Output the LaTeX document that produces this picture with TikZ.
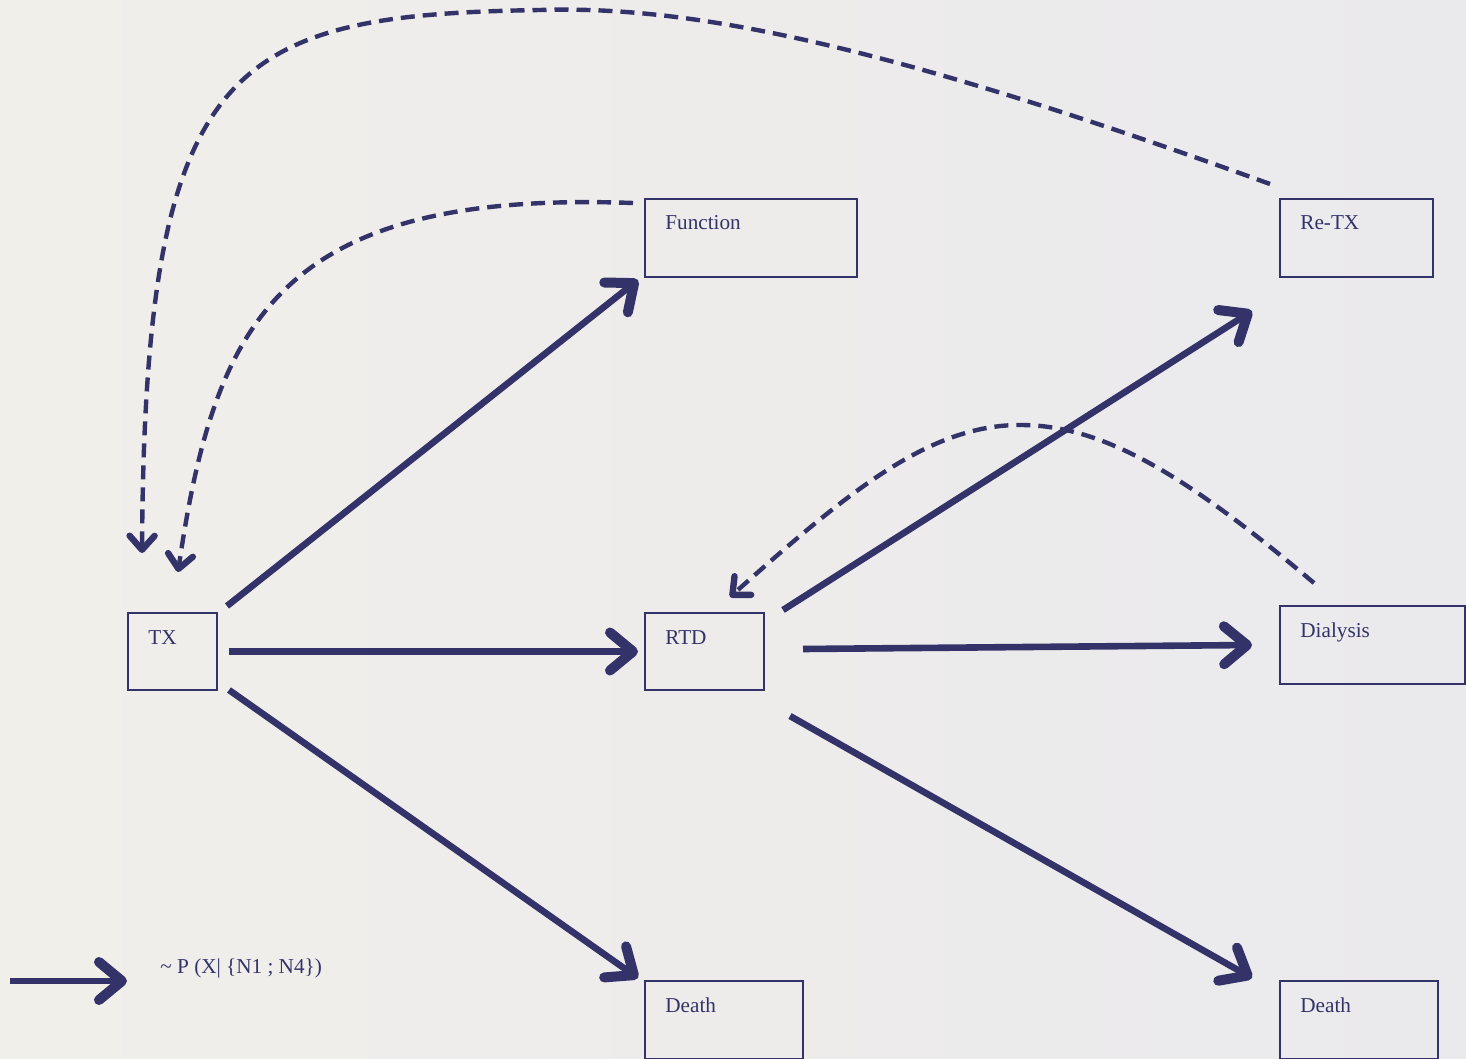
\documentclass[tikz,border=0pt]{standalone}
\usepackage{fontspec}
\setmainfont{Liberation Serif}
\usetikzlibrary{arrows.meta,calc}
\definecolor{navy}{HTML}{33336A}
\definecolor{bgl}{HTML}{F1EFEA}
\definecolor{bgr}{HTML}{EAE9EC}
\tikzset{
  box/.style={draw=navy, line width=1pt, rectangle, inner sep=0pt, outer sep=0pt},
  lbl/.style={text=navy, anchor=base west, inner sep=0pt, font=\fontsize{10.6}{12}\selectfont},
  flow/.style={draw=navy, line width=3.3pt, -{Straight Barb[length=11.5pt,width=19pt,line width=5pt,round]}},
  back/.style={draw=navy, line width=2.2pt, dash pattern=on 7pt off 4pt, -{Straight Barb[length=7pt,width=12.5pt,line width=3.2pt,round]}}
}
\begin{document}
\begin{tikzpicture}[x=0.5pt,y=-0.5pt]
\useasboundingbox (0,0) rectangle (1466,1059);
\shade[left color=bgl, right color=bgr] (0,0) rectangle (1466,1059);
% boxes
\node[box, minimum width=44.5pt, minimum height=38.5pt] (tx) at (172.5,651.5) {};
\node[box, minimum width=106pt, minimum height=39pt] (fun) at (751,238) {};
\node[box, minimum width=76.5pt, minimum height=39pt] (retx) at (1356.5,238) {};
\node[box, minimum width=59.5pt, minimum height=38.5pt] (rtd) at (704.5,651.5) {};
\node[box, minimum width=92.5pt, minimum height=39pt] (dia) at (1372.5,645) {};
\node[box, minimum width=79pt, minimum height=39pt] (d1) at (724,1020) {};
\node[box, minimum width=79pt, minimum height=39pt] (d2) at (1359,1020) {};
% labels
\node[lbl] (txl) at ($(tx.north west)+(20,31)$) {TX};
\node[lbl] (funl) at ($(fun.north west)+(20,31)$) {Function};
\node[lbl] (retxl) at ($(retx.north west)+(20,31)$) {Re-TX};
\node[lbl] (rtdl) at ($(rtd.north west)+(20,31)$) {RTD};
\node[lbl] (dial) at ($(dia.north west)+(20,31)$) {Dialysis};
\node[lbl] (d1l) at ($(d1.north west)+(20,31)$) {Death};
\node[lbl] (d2l) at ($(d2.north west)+(20,31)$) {Death};
% solid transitions
\draw[flow] ($(tx.north east)+(10,-7)$) -- ($(fun.south west)+(-7,3)$);
\draw[flow] ($(tx.east)+(12,0)$) -- ($(rtd.west)+(-7,0)$);
\draw[flow] ($(tx.south east)+(12,0)$) -- ($(d1.north west)+(-7,-3)$);
\draw[flow] ($(rtd.north east)+(19,-3)$) -- ($(retx.south west)+(-28,34)$);
\draw[flow] ($(rtd.east)+(39,-2.5)$) -- ($(dia.west)+(-28,0)$);
\draw[flow] ($(rtd.south east)+(26,26)$) -- ($(d2.north west)+(-28,-3)$);
% dashed returns
\draw[back] ($(fun.north west)+(-12,4)$) .. controls (280,190) and (215,320) .. ($(tx.north)+(5.5,-41)$);
\draw[back] ($(retx.north west)+(-10,-15)$) .. controls (900,50) and (700,5) .. (540,10)
  .. controls (230,15) and (145,60) .. ($(tx.north west)+(14,-60)$);
\draw[back] ($(dia.north west)+(34,-23)$) .. controls (1180,470) and (1100,425) .. (1020,425)
  .. controls (930,425) and (850,490) .. ($(rtd.north)+(25.5,-16)$);
% legend
\coordinate (legs) at (10,981);
\coordinate (lege) at (127,981);
\draw[flow] (legs) -- (lege);
\node[lbl] (legt) at (160,973) {\textasciitilde{} P (X| \{N1 ; N4\})};
\end{tikzpicture}
\end{document}
